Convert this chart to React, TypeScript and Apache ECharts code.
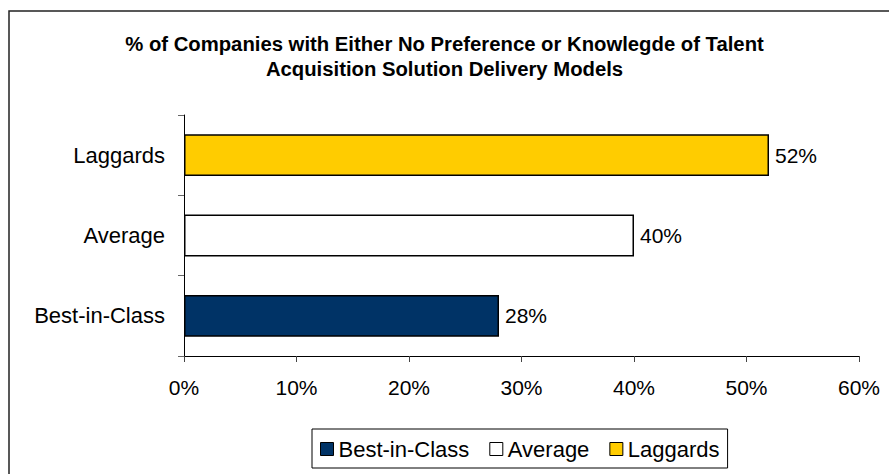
import React, { useEffect, useRef } from "react";
import * as echarts from "echarts";

const titleLines = [
  "% of Companies with Either No Preference or Knowlegde of Talent",
  "Acquisition Solution Delivery Models",
];
const categories = ["Best-in-Class", "Average", "Laggards"];
const seriesNames = ["Best-in-Class", "Average", "Laggards"];
const seriesValues = [28, 40, 52];
const seriesColors = ["#003366", "#FFFFFF", "#FFCC00"];
const xTicks = { min: 0, max: 60, interval: 10 };

const FONT = "'Liberation Sans', Arial, sans-serif";

export default function App() {
  const ref = useRef<HTMLDivElement>(null);
  useEffect(() => {
    if (!ref.current) return;
    const chart = echarts.init(ref.current, null, { renderer: "svg" });
    const series = seriesNames.map((name, i) => ({
      name,
      type: "bar" as const,
      stack: "all",
      barWidth: "52%",
      data: categories.map((_, j) => (j === i ? seriesValues[i] : null)),
      itemStyle: { color: seriesColors[i], borderColor: "#000", borderWidth: 1.5 },
      label: {
        show: true,
        position: "right",
        distance: 6,
        formatter: "{c}%",
        fontSize: 21,
        fontFamily: FONT,
        color: "#000",
      },
    }));
    chart.setOption({
      animation: false,
      backgroundColor: "#fff",
      textStyle: { fontFamily: FONT },
      title: {
        text: titleLines.join("\n"),
        left: "center",
        top: 26,
        textStyle: {
          fontSize: 20.3,
          fontWeight: "bold",
          color: "#000",
          fontFamily: FONT,
          lineHeight: 25,
        },
      },
      graphic: [
        {
          type: "rect",
          shape: { x: 9, y: 11, width: 1000, height: 1000 },
          style: { fill: "none", stroke: "#222", lineWidth: 1.5 },
          silent: true,
          z: 100,
        },
      ],
      legend: {
        left: 312,
        top: 429,
        orient: "horizontal",
        data: seriesNames,
        itemWidth: 13,
        itemHeight: 13,
        itemGap: 20,
        itemTextGap: 6,
        padding: [9, 8, 8, 8],
        borderColor: "#000",
        borderWidth: 1,
        icon: "rect",
        itemStyle: { borderColor: "#000", borderWidth: 1 },
        textStyle: { fontSize: 22, color: "#000", fontFamily: FONT },
      },
      grid: { left: 184, right: 30, top: 115, bottom: 118, containLabel: false },
      xAxis: {
        type: "value",
        min: xTicks.min,
        max: xTicks.max,
        interval: xTicks.interval,
        splitLine: { show: false },
        axisLine: { show: true, lineStyle: { color: "#000", width: 1 } },
        axisTick: { show: true, length: 6, lineStyle: { color: "#444" } },
        axisLabel: {
          formatter: "{value}%",
          fontSize: 21,
          color: "#000",
          margin: 21,
          fontFamily: FONT,
        },
      },
      yAxis: {
        type: "category",
        data: categories,
        axisLine: { show: true, lineStyle: { color: "#000", width: 1 } },
        axisTick: { show: true, length: 6, lineStyle: { color: "#666" } },
        axisLabel: { fontSize: 22, color: "#000", margin: 19, fontFamily: FONT },
      },
      series,
    });
    return () => chart.dispose();
  }, []);
  return (
    <div
      ref={ref}
      style={{ position: "fixed", left: 0, top: 0, width: 889, height: 474 }}
    />
  );
}
